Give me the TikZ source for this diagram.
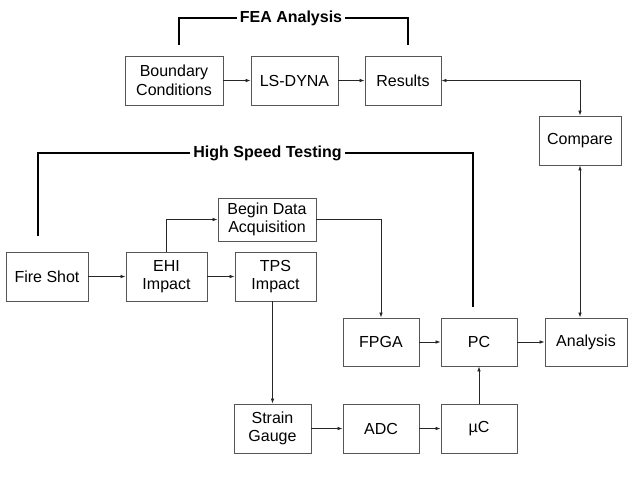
\documentclass[tikz,border=0pt]{standalone}
\usepackage{fontspec}
\setmainfont{Liberation Sans}
\usetikzlibrary{arrows.meta}
\definecolor{boxgray}{RGB}{85,85,85}

\begin{document}
\begin{tikzpicture}[x=1pt,y=-1pt,
  box/.style={draw=boxgray, line width=0.8pt, align=center, inner sep=1pt,
    minimum height=49pt, font=\fontsize{16}{18.5}\selectfont},
  head/.style={inner sep=3pt, font=\fontsize{16}{18.5}\selectfont\bfseries},
  bracket/.style={line width=1.6pt, black},
  link/.style={-{Latex[length=5pt,width=3.5pt]}, line width=0.7pt, black!85},
  both/.style={{Latex[length=5pt,width=3.5pt]}-{Latex[length=5pt,width=3.5pt]}, line width=0.7pt, black!85}]
\useasboundingbox (0,0) rectangle (640,480);

% FEA analysis
\node [box, minimum width=98pt] (bound) at (174,80.5) {Boundary\\Conditions};
\node [box, minimum width=87pt] (lsdyna) at (294.5,80.5) {LS-DYNA};
\node [box, minimum width=76pt] (results) at (403,80.5) {Results};
\node [box, minimum width=82pt] (compare) at (580,140.5) {Compare};
\node [head] (feahead) at (291,18) {FEA Analysis};
\coordinate (fealeft) at (179,45);
\coordinate (fearight) at (408,45);
\draw [bracket] (fealeft) |- (feahead.west);
\draw [bracket] (feahead.east) -| (fearight);

% high speed testing
\node [box, minimum width=82pt] (fire) at (47,276.5) {Fire Shot};
\node [box, minimum width=81pt] (ehi) at (166.5,276.5) {EHI\\Impact};
\node [box, minimum width=81pt] (tps) at (275.5,276.5) {TPS\\Impact};
\node [box, minimum width=98pt, minimum height=43pt] (begin) at (267,219.5) {Begin Data\\Acquisition};
\node [box, minimum width=76pt, minimum height=48pt] (fpga) at (381,342) {FPGA};
\node [box, minimum width=76pt, minimum height=48pt] (pc) at (479,342) {PC};
\node [box, minimum width=82pt, minimum height=48pt] (analysis) at (586,342) {Analysis};
\node [box, minimum width=77pt] (strain) at (272.5,428.5) {Strain\\Gauge};
\node [box, minimum width=76pt] (adc) at (381,428.5) {ADC};
\node [box, minimum width=76pt] (uc) at (479,428.5) {µC};
\node [head] (hshead) at (267.5,153) {High Speed Testing};
\coordinate (hsleft) at (38,236);
\coordinate (hsright) at (473,307);
\draw [bracket] (hsleft) |- (hshead.west);
\draw [bracket] (hshead.east) -| (hsright);

% connectors
\draw [link] (bound) -- (lsdyna);
\draw [link] (lsdyna) -- (results);
\draw [both] (results.east) -| (compare.north);
\draw [both] (compare.south) -- (compare.south |- analysis.north);
\draw [link] (fire) -- (ehi);
\draw [link] (ehi) -- (tps);
\draw [link] (ehi.north) |- (begin.west);
\draw [link] (begin.east) -| (fpga.north);
\draw [link] (tps.south -| strain.north) -- (strain.north);
\draw [link] (strain) -- (adc);
\draw [link] (adc) -- (uc);
\draw [link] (uc) -- (pc);
\draw [link] (fpga) -- (pc);
\draw [link] (pc) -- (analysis);

\end{tikzpicture}
\end{document}
